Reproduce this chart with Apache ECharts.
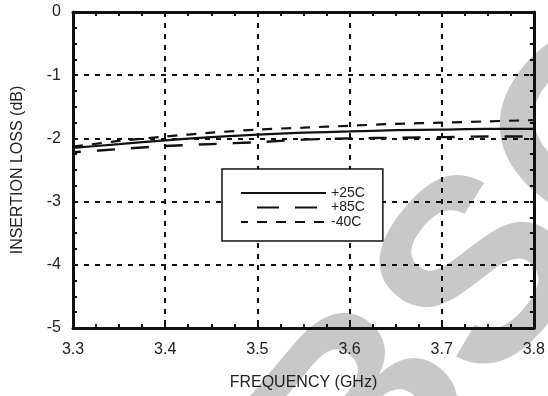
<!DOCTYPE html>
<html>
<head>
<meta charset="utf-8">
<title>Insertion Loss vs Frequency</title>
<script src="https://cdn.jsdelivr.net/npm/echarts@6/dist/echarts.min.js"></script>
<style>
  html, body { margin: 0; padding: 0; background: #fff; }
  #chart { width: 548px; height: 396px; }
</style>
</head>
<body>
<div id="chart"></div>
<script>
// Frequency points (GHz)
const frequency = [3.3, 3.35, 3.4, 3.45, 3.5, 3.55, 3.6, 3.65, 3.7, 3.75, 3.8];

// Insertion loss (dB) per temperature
const loss25C  = [-2.15, -2.09, -2.03, -1.98, -1.94, -1.91, -1.89, -1.87, -1.86, -1.85, -1.85];
const loss85C  = [-2.22, -2.17, -2.12, -2.09, -2.06, -2.02, -2.00, -1.99, -1.98, -1.97, -1.97];
const lossM40C = [-2.13, -2.04, -1.97, -1.91, -1.86, -1.83, -1.80, -1.77, -1.75, -1.73, -1.71];

const seriesNames = ['+25C', '+85C', '-40C'];
const xTicks = [3.3, 3.4, 3.5, 3.6, 3.7, 3.8];
const yTicks = [-5, -4, -3, -2, -1, 0];

const INK = '#111';
const TEXT = '#222';
const FONT = '"Liberation Sans", Arial, Helvetica, sans-serif';

function pairs(values) {
  return frequency.map((f, i) => [f, values[i]]);
}

const frameAxis = {
  axisLine: { show: true, onZero: false, lineStyle: { color: INK, width: 3 } },
  axisTick: { show: true, inside: true, length: 4, lineStyle: { color: INK, width: 2 } },
  minorTick: { show: true, splitNumber: 4, length: 4, lineStyle: { color: INK, width: 2 } }
};

const chart = echarts.init(document.getElementById('chart'), null, { renderer: 'canvas' });

chart.setOption({
  backgroundColor: '#fff',
  animation: false,
  textStyle: { fontFamily: FONT },
  graphic: {
    elements: [{
      // diagonal stamp behind the plot
      type: 'text',
      x: 641,
      y: 97,
      rotation: 50 * Math.PI / 180,
      z: -10,
      silent: true,
      style: {
        text: 'OBSOLETE',
        font: 'bold 260px ' + FONT,
        fill: '#c8c8c8',
        align: 'center',
        verticalAlign: 'middle'
      }
    }]
  },
  grid: { left: 73, right: 13, top: 12, bottom: 67, containLabel: false },
  legend: {
    data: [
      { name: seriesNames[0] },
      { name: seriesNames[1], lineStyle: { type: [22, 16], dashOffset: 22 } },
      { name: seriesNames[2] }
    ],
    orient: 'vertical',
    left: 222,
    top: 169,
    itemWidth: 85,
    itemHeight: 14,
    itemGap: 0.5,
    padding: [17, 18, 12, 18],
    backgroundColor: '#fff',
    borderColor: INK,
    borderWidth: 1.5,
    borderRadius: 0,
    itemStyle: { opacity: 0, borderWidth: 0 },
    textStyle: { fontSize: 14, color: TEXT, fontFamily: FONT }
  },
  xAxis: [
    Object.assign({
      type: 'value',
      position: 'bottom',
      min: xTicks[0],
      max: xTicks[xTicks.length - 1],
      interval: 0.1,
      name: 'FREQUENCY (GHz)',
      nameLocation: 'middle',
      nameGap: 47,
      nameTextStyle: { fontSize: 16, color: TEXT, fontFamily: FONT },
      axisLabel: {
        margin: 14, fontSize: 16, color: TEXT, fontFamily: FONT,
        formatter: v => v.toFixed(1)
      },
      splitLine: { show: true, lineStyle: { color: INK, width: 2, type: [5, 6] } }
    }, frameAxis),
    Object.assign({
      type: 'value',
      position: 'top',
      min: xTicks[0],
      max: xTicks[xTicks.length - 1],
      interval: 0.1,
      axisLabel: { show: false },
      splitLine: { show: false }
    }, frameAxis)
  ],
  yAxis: [
    Object.assign({
      type: 'value',
      position: 'left',
      min: yTicks[0],
      max: yTicks[yTicks.length - 1],
      interval: 1,
      name: 'INSERTION LOSS (dB)',
      nameLocation: 'middle',
      nameGap: 47,
      nameTextStyle: { fontSize: 16, color: TEXT, fontFamily: FONT },
      axisLabel: { margin: 12, fontSize: 16, color: TEXT, fontFamily: FONT },
      splitLine: { show: true, lineStyle: { color: INK, width: 2, type: [5, 6] } }
    }, frameAxis),
    Object.assign({
      type: 'value',
      position: 'right',
      min: yTicks[0],
      max: yTicks[yTicks.length - 1],
      interval: 1,
      axisLabel: { show: false },
      splitLine: { show: false }
    }, frameAxis)
  ],
  series: [
    {
      name: seriesNames[0], type: 'line', xAxisIndex: 0, yAxisIndex: 0,
      data: pairs(loss25C), smooth: 0.3, symbol: 'none',
      lineStyle: { color: INK, width: 2.2, type: 'solid' },
      itemStyle: { color: INK }
    },
    {
      name: seriesNames[1], type: 'line', xAxisIndex: 0, yAxisIndex: 0,
      data: pairs(loss85C), smooth: 0.3, symbol: 'none',
      lineStyle: { color: INK, width: 2.4, type: [18, 16], dashOffset: 10 },
      itemStyle: { color: INK }
    },
    {
      name: seriesNames[2], type: 'line', xAxisIndex: 0, yAxisIndex: 0,
      data: pairs(lossM40C), smooth: 0.3, symbol: 'none',
      lineStyle: { color: INK, width: 2.2, type: [10, 9] },
      itemStyle: { color: INK }
    }
  ]
});
</script>
</body>
</html>
